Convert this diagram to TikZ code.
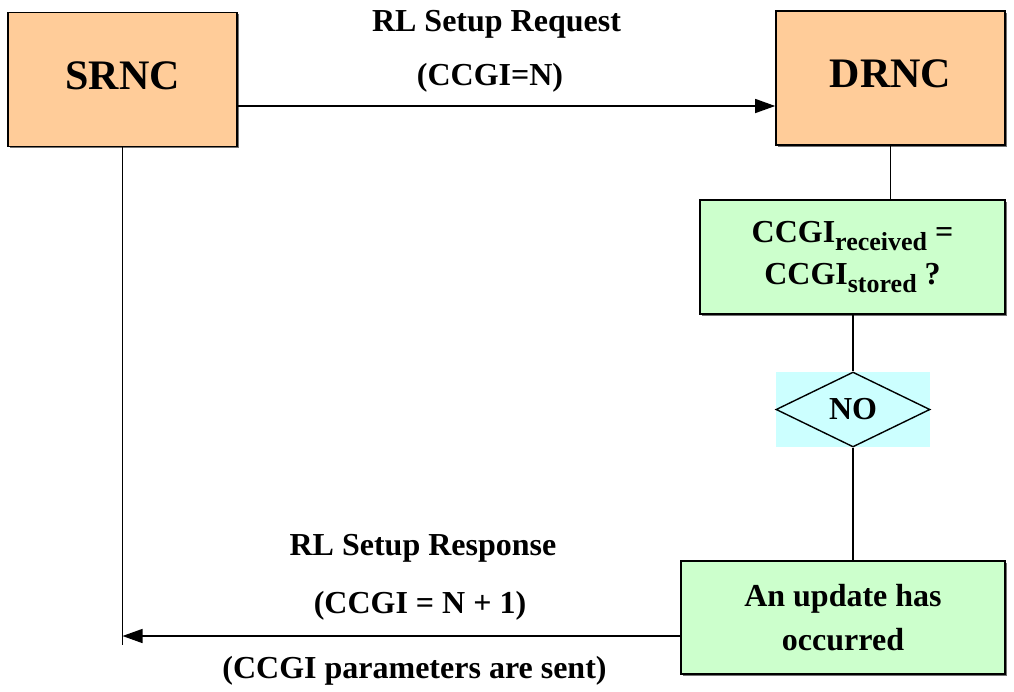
\documentclass[tikz,border=0pt]{standalone}
\usepackage{fontspec}
\setmainfont{Liberation Serif}
\usepackage{xcolor}
\usetikzlibrary{positioning, arrows.meta, shapes.geometric, shadows}
\definecolor{rncorange}{HTML}{FFCC99}
\definecolor{stepgreen}{HTML}{CCFFCC}
\definecolor{testcyan}{HTML}{CCFFFF}
\newcommand{\subtxt}[1]{\raisebox{-8pt}{\fontsize{26}{26}\selectfont #1}}

\begin{document}
\begin{tikzpicture}[
    x=1pt, y=-1pt,
    font=\fontsize{32}{44}\selectfont\bfseries,
    rnc/.style={draw, line width=1.6pt, fill=rncorange, inner sep=0pt, text depth=8pt,
        minimum width=229pt, minimum height=134pt, font=\fontsize{42}{42}\selectfont\bfseries,
        drop shadow={shadow xshift=1.5pt, shadow yshift=-1.5pt, fill=black!55, opacity=1}},
    stepbox/.style={draw, line width=1.6pt, fill=stepgreen, inner sep=0pt, align=center,
        drop shadow={shadow xshift=1.5pt, shadow yshift=-1.5pt, fill=black!55, opacity=1}},
    msg/.style={anchor=base, inner sep=0pt},
    link/.style={line width=1.4pt},
    arr/.style={line width=1.4pt, -{Triangle[length=20pt, width=14pt]}}
]
\useasboundingbox (0,0) rectangle (1014,691);

% Network controllers
\node[rnc] (srnc) at (122.5,79.5) {SRNC};
\node[rnc] (drnc) at (890.5,78) {DRNC};

% Checks in the DRNC
\node[stepbox, minimum width=305pt, minimum height=114pt] (check) at (852.5,257)
    {CCGI\subtxt{received} =\\[-2pt] CCGI\subtxt{stored} ?};
\node[fill=testcyan, inner sep=0pt, minimum width=154pt, minimum height=75pt] (nobox) at (853,409.5) {};
\node[draw, diamond, line width=1.4pt, inner sep=0pt, minimum width=154pt, minimum height=75pt] (no) at (nobox) {NO};
\node[stepbox, minimum width=324pt, minimum height=113pt] (update) at (843,617.5)
    {An update has\\ occurred};

% Lifelines
\coordinate (srncend) at (srnc.south |- 0,645);
\coordinate (req) at (0,106);
\coordinate (resp) at (0,636);
\draw[link] (srnc.south) -- (srncend);
\draw[link] (drnc.south) -- (drnc.south |- check.north);
\draw[link] (check.south -| no.north) -- (no.north);
\draw[link] (no.south) -- (no.south |- update.north);

% Messages
\draw[arr] (srnc.east |- req) -- (drnc.west |- req);
\draw[arr] (update.west |- resp) -- (srncend |- resp);
\node[msg] (reqname) at (496.5,31) {RL Setup Request};
\node[msg] (reqval) at (490,85) {(CCGI=N)};
\node[msg] (respname) at (423,555) {RL Setup Response};
\node[msg] (respval) at (420,613) {(CCGI = N + 1)};
\node[msg] (respnote) at (414.5,678) {(CCGI parameters are sent)};

\end{tikzpicture}
\end{document}
